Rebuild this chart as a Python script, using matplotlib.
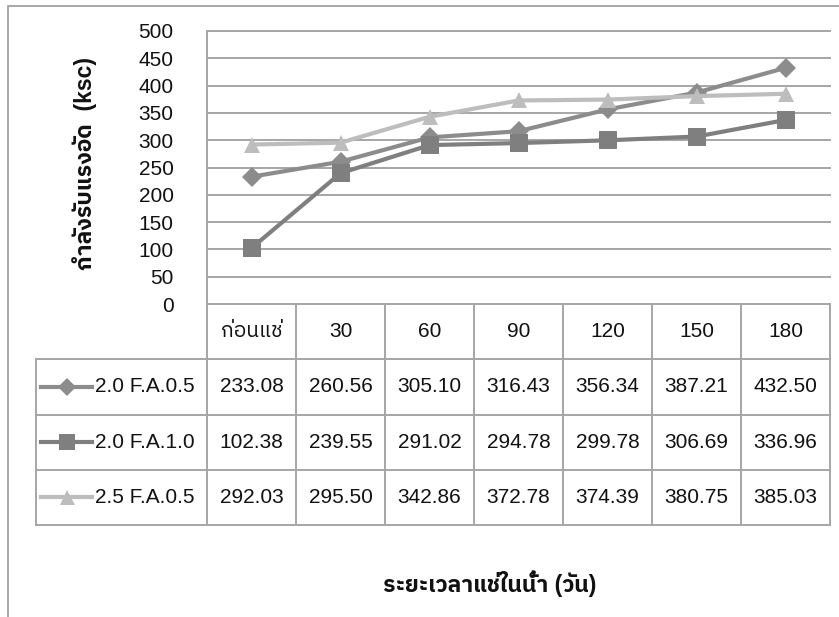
import numpy as np
import matplotlib
matplotlib.use("Agg")
import matplotlib.pyplot as plt
from matplotlib import font_manager
from matplotlib.ft2font import FT2Font
from matplotlib.patches import Rectangle

# ---- data ----
categories = ["ก่อนแช่", "30", "60", "90", "120", "150", "180"]
series_names = ["2.0 F.A.0.5", "2.0 F.A.1.0", "2.5 F.A.0.5"]
fa05_20 = [233.08, 260.56, 305.10, 316.43, 356.34, 387.21, 432.50]
fa10_20 = [102.38, 239.55, 291.02, 294.78, 299.78, 306.69, 336.96]
fa05_25 = [292.03, 295.50, 342.86, 372.78, 374.39, 380.75, 385.03]
y_ticks = [0, 50, 100, 150, 200, 250, 300, 350, 400, 450, 500]
y_label = "กำลังรับแรงอัด  (ksc)"
x_label = "ระยะเวลาแช่ในน้ำ (วัน)"

series = [fa05_20, fa10_20, fa05_25]
colors = ["#8c8c8c", "#7f7f7f", "#bdbdbd"]
markers = ["D", "s", "^"]
msizes = [10, 13, 12]


# ---- fonts: Latin face plus a face that carries Thai glyphs ----
def find_thai_family():
    found = []
    for fe in font_manager.fontManager.ttflist:
        try:
            if 0x0E01 in FT2Font(fe.fname).get_charmap():
                found.append(fe.name)
        except Exception:
            pass
    for pref in ("Sans", ""):
        for name in found:
            if pref in name and "Mono" not in name:
                return name
    return None


thai = find_thai_family()
families = ["Liberation Sans"] + ([thai] if thai else []) + ["DejaVu Sans"]
plt.rcParams["font.family"] = families

W, H = 839, 617
fig = plt.figure(figsize=(W / 100, H / 100), dpi=100)
fig.patch.set_facecolor("white")

GRID = "#a6a6a6"
FS = 15
TITLE_FS = 16.5


def fx(px):
    return px / W


def fy(py):
    return 1 - py / H


# chart frame (only top/left edges fall inside the image)
fig.add_artist(Rectangle((fx(8), fy(700)), 1.2, (700 - 6) / H,
                         transform=fig.transFigure, fill=False,
                         edgecolor="#9a9a9a", linewidth=1.2))

# ---- plot area ----
L, R, T, B = 207, 830, 31, 304
ax = fig.add_axes([fx(L), fy(B), fx(R - L), (B - T) / H])
x = np.arange(len(categories)) + 0.5
ax.set_xlim(0, len(categories))
ax.set_ylim(0, 500)
ax.set_yticks(y_ticks)
ax.set_xticks([])
ax.tick_params(axis="y", length=0, pad=24, labelsize=FS, labelcolor="#111111")
for y in y_ticks:
    ax.axhline(y, color=GRID, linewidth=1.4, zorder=1, clip_on=False)
for s in ("top", "right", "bottom"):
    ax.spines[s].set_visible(False)
ax.spines["left"].set_color(GRID)
ax.spines["left"].set_linewidth(1.4)

for vals, c, m, ms in zip(series, colors, markers, msizes):
    ax.plot(x, vals, color=c, linewidth=3, marker=m, markersize=ms,
            markeredgewidth=0, zorder=3, clip_on=False)

# ---- data table ----
TL, TB = 36, 525
lab_w = (L - TL) / ((R - L) / len(categories))
tax = fig.add_axes([fx(TL), fy(TB), fx(R - TL), (TB - B) / H])
tax.set_xlim(-lab_w, len(categories))
tax.set_ylim(4, 0)
tax.axis("off")

lk = dict(color=GRID, linewidth=1.4, clip_on=False)
n = len(categories)
# horizontal rules
for r in (1, 2, 3, 4):
    tax.plot([-lab_w, n], [r, r], **lk)
# vertical rules
tax.plot([-lab_w, -lab_w], [1, 4], **lk)
for c in range(n + 1):
    tax.plot([c, c], [0, 4], **lk)

for i, cat in enumerate(categories):
    tax.text(i + 0.5, 0.5, cat, ha="center", va="center", fontsize=FS,
             color="#111111")

for r, (name, vals, c, m, ms) in enumerate(zip(series_names, series, colors,
                                               markers, msizes)):
    yc = r + 1.5
    # legend key: short line with marker
    kx0 = -lab_w + 5 / 89
    kx1 = -lab_w + 56 / 89
    tax.plot([kx0, kx1], [yc, yc], color=c, linewidth=3, clip_on=False)
    tax.plot([(kx0 + kx1) / 2], [yc], color=c, marker=m,
             markersize=ms * 0.9, markeredgewidth=0, clip_on=False)
    tax.text(-lab_w + 59 / 89, yc, name, ha="left",
             va="center", fontsize=FS, color="#111111")
    for i, v in enumerate(vals):
        tax.text(i + 0.5, yc, f"{v:.2f}", ha="center", va="center",
                 fontsize=FS, color="#111111")

# ---- axis titles ----
fig.text(fx(85), fy(163), y_label, rotation=90, ha="center", va="center",
         fontsize=TITLE_FS, fontweight="bold", color="#111111")
fig.text(fx(490), fy(584), x_label, ha="center", va="center",
         fontsize=TITLE_FS, fontweight="bold", color="#111111")

fig.savefig("out.png", dpi=100, facecolor="white")
